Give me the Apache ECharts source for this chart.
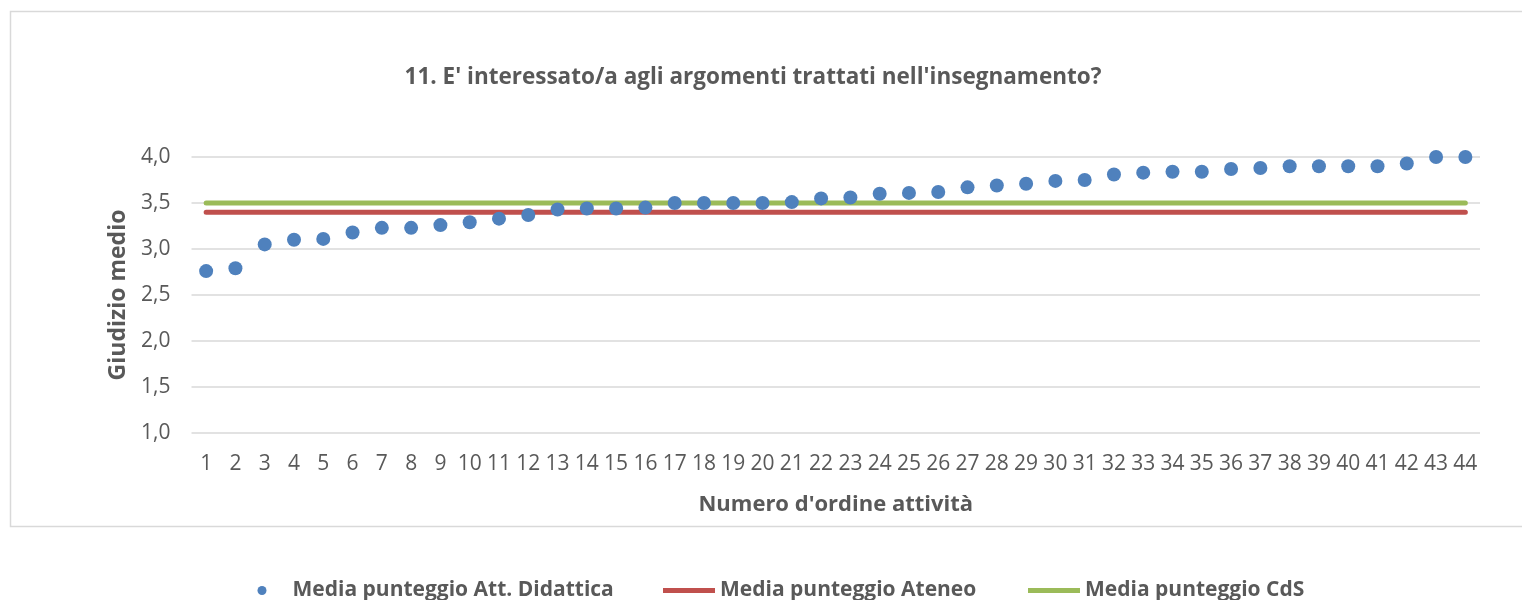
<!DOCTYPE html>
<html>
<head>
<meta charset="utf-8">
<script src="https://cdn.jsdelivr.net/npm/echarts@6/dist/echarts.min.js"></script>
<style>html,body{margin:0;padding:0;background:#fff}#c{width:1522px;height:600px}</style>
</head>
<body>
<div id="c"></div>
<script>
const titleText = "11. E' interessato/a agli argomenti trattati nell'insegnamento?";
const categories = ['1','2','3','4','5','6','7','8','9','10','11','12','13','14','15','16','17','18','19','20','21','22','23','24','25','26','27','28','29','30','31','32','33','34','35','36','37','38','39','40','41','42','43','44'];
const mediaAttDidattica = [2.76,2.79,3.05,3.10,3.11,3.18,3.23,3.23,3.26,3.29,3.33,3.37,3.43,3.44,3.44,3.45,3.50,3.50,3.50,3.50,3.51,3.55,3.56,3.60,3.61,3.62,3.67,3.69,3.71,3.74,3.75,3.81,3.83,3.84,3.84,3.87,3.88,3.90,3.90,3.90,3.90,3.93,4.00,4.00];
const mediaAteneo = [3.40,3.40,3.40,3.40,3.40,3.40,3.40,3.40,3.40,3.40,3.40,3.40,3.40,3.40,3.40,3.40,3.40,3.40,3.40,3.40,3.40,3.40,3.40,3.40,3.40,3.40,3.40,3.40,3.40,3.40,3.40,3.40,3.40,3.40,3.40,3.40,3.40,3.40,3.40,3.40,3.40,3.40,3.40,3.40];
const mediaCdS = [3.50,3.50,3.50,3.50,3.50,3.50,3.50,3.50,3.50,3.50,3.50,3.50,3.50,3.50,3.50,3.50,3.50,3.50,3.50,3.50,3.50,3.50,3.50,3.50,3.50,3.50,3.50,3.50,3.50,3.50,3.50,3.50,3.50,3.50,3.50,3.50,3.50,3.50,3.50,3.50,3.50,3.50,3.50,3.50];
const seriesNames = ['Media punteggio Att. Didattica','Media punteggio Ateneo','Media punteggio CdS'];
const xName = "Numero d'ordine attività";
const yName = 'Giudizio medio';

const FONT = '"Open Sans", sans-serif';
const GREY = '#595959';
const chart = echarts.init(document.getElementById('c'), null, {renderer:'canvas'});
const legendText = {fontFamily: FONT, fontWeight: 'bold', fontSize: 21, color: GREY};
chart.setOption({
  animation: false,
  backgroundColor: '#fff',
  graphic: [{
    type: 'rect', silent: true, z: -10,
    shape: {x: 10.5, y: 11.5, width: 1540, height: 515},
    style: {fill: 'none', stroke: '#d9d9d9', lineWidth: 1.5}
  }],
  title: {
    text: titleText, left: 748, top: 73, textAlign: 'center', textVerticalAlign: 'middle',
    textStyle: {fontFamily: FONT, fontWeight: 'bold', fontSize: 22.5, color: GREY}
  },
  legend: [
    {data: [seriesNames[0]], left: 257.5, top: 580, padding: 0,
      itemWidth: 9, itemHeight: 9, icon: 'circle', itemGap: 0,
      textStyle: Object.assign({padding: [0, 0, 0, 21]}, legendText)},
    {data: [seriesNames[1]], left: 663, top: 580, padding: 0, itemWidth: 52, itemHeight: 5, icon: 'rect',
      textStyle: legendText},
    {data: [seriesNames[2]], left: 1028, top: 580, padding: 0, itemWidth: 52, itemHeight: 5, icon: 'rect',
      textStyle: legendText}
  ],
  grid: {left: 191.5, right: 42, top: 157, bottom: 167},
  xAxis: {
    type: 'category', data: categories, boundaryGap: true,
    axisLine: {show: false}, axisTick: {show: false},
    axisLabel: {fontFamily: FONT, fontSize: 21, color: GREY, margin: 21, interval: 0},
    name: xName, nameLocation: 'middle', nameGap: 61,
    nameTextStyle: {fontFamily: FONT, fontWeight: 'bold', fontSize: 22, color: GREY}
  },
  yAxis: {
    type: 'value', min: 1, max: 4, interval: 0.5,
    axisLine: {show: false}, axisTick: {show: false},
    splitLine: {lineStyle: {color: '#d9d9d9', width: 1.5}},
    axisLabel: {fontFamily: FONT, fontSize: 21, color: GREY, margin: 21,
      formatter: v => v.toFixed(1).replace('.', ',')},
    name: yName, nameLocation: 'middle', nameGap: 62,
    nameTextStyle: {fontFamily: FONT, fontWeight: 'bold', fontSize: 23, color: GREY}
  },
  series: [
    {name: seriesNames[1], type: 'line', data: mediaAteneo, symbol: 'none', z: 2,
      color: '#c0504d', lineStyle: {color: '#c0504d', width: 5, cap: 'round'}},
    {name: seriesNames[2], type: 'line', data: mediaCdS, symbol: 'none', z: 2,
      color: '#9bbb59', lineStyle: {color: '#9bbb59', width: 5, cap: 'round'}},
    {name: seriesNames[0], type: 'scatter', data: mediaAttDidattica, symbolSize: 14, z: 5,
      itemStyle: {color: '#4f81bd', opacity: 1}}
  ]
});
</script>
</body>
</html>
